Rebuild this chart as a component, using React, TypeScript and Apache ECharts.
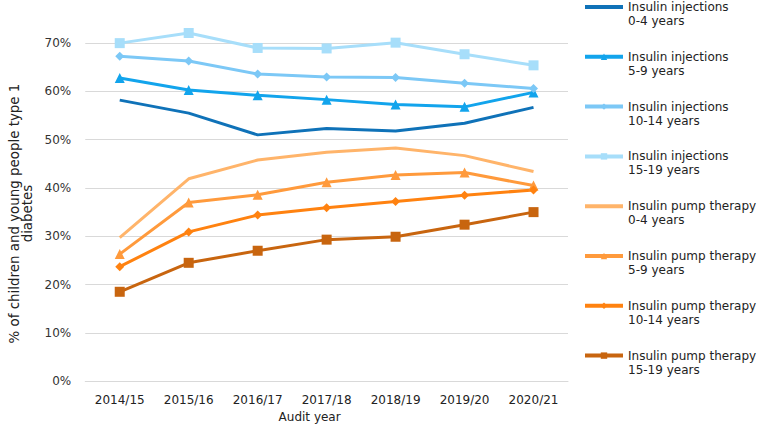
import React, { useEffect, useRef } from "react";
import * as echarts from "echarts";

const years = ["2014/15", "2015/16", "2016/17", "2017/18", "2018/19", "2019/20", "2020/21"];

const inj0_4 = [58.2, 55.5, 51.0, 52.3, 51.8, 53.4, 56.7];
const inj5_9 = [62.8, 60.3, 59.2, 58.3, 57.3, 56.8, 59.8];
const inj10_14 = [67.3, 66.3, 63.6, 63.0, 62.9, 61.7, 60.6];
const inj15_19 = [70.0, 72.1, 69.0, 68.9, 70.1, 67.7, 65.4];
const pump0_4 = [29.7, 41.9, 45.8, 47.4, 48.3, 46.7, 43.4];
const pump5_9 = [26.3, 37.0, 38.6, 41.2, 42.7, 43.2, 40.5];
const pump10_14 = [23.7, 30.9, 34.4, 35.9, 37.2, 38.5, 39.6];
const pump15_19 = [18.5, 24.5, 27.0, 29.3, 29.9, 32.4, 35.0];

const seriesDefs = [
  { name: "Insulin injections\n0-4 years", data: inj0_4, color: "#0F72B8", symbol: "none", size: 0 },
  { name: "Insulin injections\n5-9 years", data: inj5_9, color: "#12A4EC", symbol: "triangle", size: 10 },
  { name: "Insulin injections\n10-14 years", data: inj10_14, color: "#7CC8F6", symbol: "diamond", size: 9 },
  { name: "Insulin injections\n15-19 years", data: inj15_19, color: "#A7DEFA", symbol: "rect", size: 10 },
  { name: "Insulin pump therapy\n0-4 years", data: pump0_4, color: "#FFB46A", symbol: "none", size: 0 },
  { name: "Insulin pump therapy\n5-9 years", data: pump5_9, color: "#FF9A3C", symbol: "triangle", size: 10 },
  { name: "Insulin pump therapy\n10-14 years", data: pump10_14, color: "#FF8210", symbol: "diamond", size: 9 },
  { name: "Insulin pump therapy\n15-19 years", data: pump15_19, color: "#C8650F", symbol: "rect", size: 10 },
];

export default function App() {
  const ref = useRef<HTMLDivElement>(null);
  useEffect(() => {
    if (!ref.current) return;
    const chart = echarts.init(ref.current, undefined, { renderer: "svg" });
    const font = "DejaVu Sans";
    chart.setOption({
      animation: false,
      textStyle: { fontFamily: font },
      grid: { left: 82, right: 198, top: 19, bottom: 46, containLabel: false },
      legend: {
        orient: "vertical",
        left: 583,
        top: -14,
        padding: 0,
        itemWidth: 38,
        itemHeight: 8,
        itemGap: 7.8,
        formatter: (name: string) => "\n" + name,
        textStyle: {
          fontFamily: font,
          fontSize: 12,
          color: "#222",
          lineHeight: 14,
        },
        lineStyle: { width: 4 },
        data: seriesDefs.map((s) =>
          s.symbol === "none" ? { name: s.name, itemStyle: { opacity: 0 } } : { name: s.name }
        ),
      },
      xAxis: {
        type: "category",
        data: years,
        boundaryGap: true,
        name: "Audit year",
        nameLocation: "middle",
        nameGap: 29,
        nameTextStyle: { fontFamily: font, fontSize: 12, color: "#222", padding: [0, 34, 0, 0] },
        axisLine: { show: true, lineStyle: { color: "#d9d9d9", width: 1 } },
        axisTick: { show: false },
        axisLabel: { fontFamily: font, fontSize: 12, color: "#222", margin: 13 },
      },
      yAxis: {
        type: "value",
        min: 0,
        max: 75,
        interval: 10,
        name: "% of children and young people type 1\ndiabetes",
        nameLocation: "middle",
        nameGap: 52,
        nameRotate: 90,
        nameTextStyle: { fontFamily: font, fontSize: 13.4, color: "#222", lineHeight: 12.5, padding: [0, 27, 0, 0] },
        axisLine: { show: false },
        axisTick: { show: false },
        axisLabel: {
          fontFamily: font,
          fontSize: 12,
          color: "#333",
          margin: 14,
          showMaxLabel: false,
          formatter: (v: number) => `${v}%`,
        },
        splitLine: { show: true, showMaxLine: false, lineStyle: { color: "#d9d9d9", width: 1 } },
      },
      series: seriesDefs.map((s) => ({
        name: s.name,
        type: "line",
        data: s.data,
        symbol: s.symbol,
        symbolSize: s.size,
        showSymbol: s.symbol !== "none",
        lineStyle: { color: s.color, width: 3 },
        itemStyle: { color: s.color },
        clip: false,
      })),
    });
    return () => chart.dispose();
  }, []);
  return <div ref={ref} style={{ width: 766, height: 428, position: "absolute", left: 0, top: 0 }} />;
}
